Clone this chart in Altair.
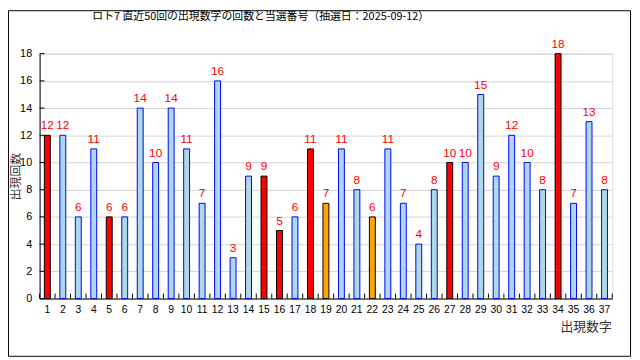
import altair as alt
import pandas as pd

title_text = "ロト7 直近50回の出現数字の回数と当選番号（抽選日：2025-09-12）"
numbers = list(range(1, 38))
counts = [12, 12, 6, 11, 6, 6, 14, 10, 14, 11, 7, 16, 3, 9, 9, 5, 6, 11, 7, 11,
          8, 6, 11, 7, 4, 8, 10, 10, 15, 9, 12, 10, 8, 18, 7, 13, 8]
main_numbers = [1, 5, 15, 16, 18, 27, 34]
bonus_numbers = [19, 22]
y_ticks = list(range(0, 19, 2))

kind = ["main" if n in main_numbers else "bonus" if n in bonus_numbers else "other" for n in numbers]
df = pd.DataFrame({"n": numbers, "count": counts, "kind": kind})

W, H = 580, 248
LABEL_FONT = "Liberation Sans"
CJK = "Noto Sans CJK JP"

xscale = alt.Scale(domain=numbers, paddingInner=0, paddingOuter=0)
yscale = alt.Scale(domain=[0, 18], nice=False)

x_axis = alt.Axis(
    labelAngle=0, ticks=False, tickSize=0, domainColor="black", domainWidth=1,
    labelFont=LABEL_FONT, labelFontSize=10.5, labelColor="black", labelPadding=6,
    labelOverlap=False, grid=False,
    title="出現数字", titleFont=CJK, titleFontSize=13, titleFontWeight="normal",
    titleColor="#333333", titleAlign="right", titleAnchor="end",
    titleX=579, titleY=28, titleBaseline="middle",
)
y_axis = alt.Axis(
    values=y_ticks, tickCount=10, grid=True, gridColor="#D3D3D3", gridWidth=1,
    ticks=False, tickSize=0, domainColor="black", domainWidth=1,
    labelFont=LABEL_FONT, labelFontSize=11, labelColor="black", labelPadding=8,
    labelOverlap=False,
    title="出現回数", titleFont=CJK, titleFontSize=12, titleFontWeight="normal",
    titleColor="#333333", titleAngle=270, titleX=-24, titleY=124,
    titleAlign="center", titleBaseline="middle",
)

def X(**kw):
    return alt.X("n:O", scale=xscale, axis=x_axis, **kw)

def Y():
    return alt.Y("count:Q", scale=yscale, axis=y_axis)

bars = alt.Chart(df).mark_bar(size=6, strokeWidth=1).encode(
    x=X(),
    y=Y(),
    fill=alt.Fill("kind:N", scale=alt.Scale(domain=["main", "bonus", "other"],
                                            range=["#FF0000", "#FFA500", "#ADD8E6"]), legend=None),
    stroke=alt.Stroke("kind:N", scale=alt.Scale(domain=["main", "bonus", "other"],
                                                range=["#000000", "#000000", "#0000FF"]), legend=None),
)

labels = alt.Chart(df).mark_text(
    color="#FF0000", font=LABEL_FONT, fontSize=12, baseline="alphabetic", dy=-6
).encode(x=X(), y=Y(), text="count:Q")

ytick_df = pd.DataFrame({"count": y_ticks})
yticks = alt.Chart(ytick_df).mark_rule(color="black", strokeWidth=1).encode(
    y=Y(), x=alt.value(0), x2=alt.value(5)
)

xticks = alt.Chart(df).mark_rule(color="black", strokeWidth=1).encode(
    x=X(bandPosition=0), y=alt.value(H - 5), y2=alt.value(H)
)
xtick_end = alt.Chart(pd.DataFrame({"n": [numbers[-1]]})).mark_rule(color="black", strokeWidth=1).encode(
    x=X(bandPosition=1), y=alt.value(H - 5), y2=alt.value(H)
)

one = pd.DataFrame({"a": [0]})
frame = alt.Chart(one).mark_rect(fillOpacity=0, stroke="black", strokeWidth=1).encode(
    x=alt.value(-31.5), x2=alt.value(598.5), y=alt.value(-43.5), y2=alt.value(306.5)
)
title = alt.Chart(one).mark_text(
    text=title_text, font=CJK, fontSize=11, color="black", align="center", baseline="middle"
).encode(x=alt.value(224), y=alt.value(-37))

chart = alt.layer(bars, labels, yticks, xticks, xtick_end, frame, title).properties(
    width=W, height=H,
    autosize=alt.AutoSizeParams(type="none"),
    padding={"left": 32, "top": 44, "right": 20, "bottom": 60},
).configure_view(stroke=None).configure(background="white")

chart.save("out.html", embed_options={"renderer": "svg", "actions": False})
